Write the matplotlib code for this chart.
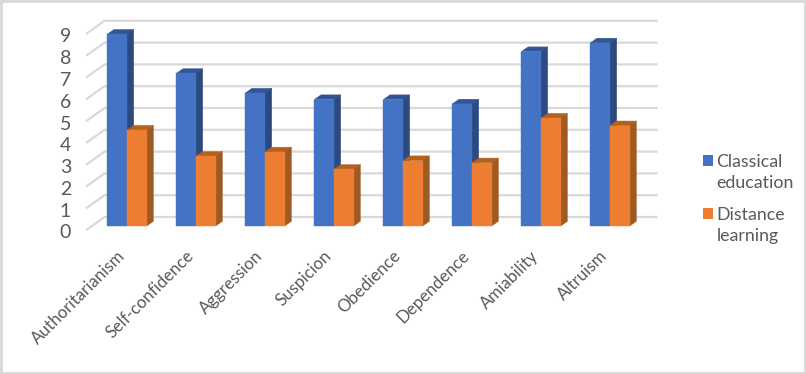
import matplotlib
matplotlib.use("Agg")
import matplotlib.pyplot as plt
from matplotlib.patches import Polygon, Rectangle, Patch
from matplotlib.transforms import ScaledTranslation

categories = ["Authoritarianism", "Self-confidence", "Aggression", "Suspicion",
              "Obedience", "Dependence", "Amiability", "Altruism"]
classical = [8.8, 7.0, 6.1, 5.8, 5.8, 5.6, 8.0, 8.4]
distance = [4.4, 3.2, 3.4, 2.6, 3.0, 2.9, 4.95, 4.6]
yticks = list(range(10))

W, H = 806, 374
plt.rcParams["font.family"] = ["Lato", "DejaVu Sans"]
fig = plt.figure(figsize=(W / 100, H / 100), dpi=100, facecolor="white")
fig.add_artist(Rectangle((0, 0), 1, 1, transform=fig.transFigure, fill=False,
                         ec="#D9D9D9", lw=3.5))
L, R, B0, T0 = 87, 639, 229.5, 33.3
ax = fig.add_axes([L / W, 1 - B0 / H, (R - L) / W, (B0 - T0) / H])
ax.set_xlim(-0.5, 7.5)
ax.set_ylim(0, 9)
ax.patch.set_alpha(0)
for s in ax.spines.values():
    s.set_visible(False)

PX = 8 / (R - L)          # category units per pixel
PY = 9 / (B0 - T0)        # value units per pixel
wall_dx, wall_dy = 17.5 * PX, 12.5 * PY
bar_dx, bar_dy = 5.5 * PX, 3.5 * PY
deep_dx, deep_dy = 6.7 * PX, 4.7 * PY
bw = 19.7 * PX

GRID = "#D9D9D9"
for v in yticks:
    ax.plot([-0.5, -0.5 + wall_dx, 7.5 + wall_dx], [v, v + wall_dy, v + wall_dy],
            color=GRID, lw=1.6, clip_on=False, zorder=1, solid_joinstyle="miter")


def bar(x0, v, front, side, top, z):
    x1 = x0 + bw
    y0 = bar_dy
    y1 = v + bar_dy
    shapes = [
        ([(x0, y1), (x1, y1), (x1 + deep_dx, y1 + deep_dy), (x0 + deep_dx, y1 + deep_dy)], top),
        ([(x1, y0), (x1, y1), (x1 + deep_dx, y1 + deep_dy), (x1 + deep_dx, y0 + deep_dy)], side),
        ([(x0, y0), (x1, y0), (x1, y1), (x0, y1)], front),
    ]
    for pts, c in shapes:
        ax.add_patch(Polygon(pts, closed=True, fc=c, ec=c, lw=0.3, clip_on=False, zorder=z))


for i, (a, b) in enumerate(zip(classical, distance)):
    xc = i + bar_dx
    bar(xc - bw, a, "#4472C4", "#2C4A7F", "#335593", 3 + i * 2)
    bar(xc, b, "#ED7D31", "#9E5A22", "#B5601F", 4 + i * 2)

ax.set_yticks(yticks)
ax.set_yticklabels([str(v) for v in yticks], fontsize=14, color="#595959")
ax.set_xticks(range(len(categories)))
ax.set_xticklabels(categories, rotation=45, ha="right", va="top", rotation_mode="anchor",
                   fontsize=12.2, color="#595959")
ax.tick_params(axis="both", length=0)
ax.tick_params(axis="y", pad=11.5)
ax.tick_params(axis="x", pad=8)
for lab in ax.get_xticklabels():
    lab.set_transform(lab.get_transform() + ScaledTranslation(-5 / 100, -7 / 100, fig.dpi_scale_trans))
for lab in ax.get_yticklabels():
    lab.set_transform(lab.get_transform() + ScaledTranslation(0, -2 / 100, fig.dpi_scale_trans))

handles = [Patch(fc="#4472C4", ec="none"), Patch(fc="#ED7D31", ec="none")]
leg = ax.legend(handles, ["Classical\neducation", "Distance\nlearning"],
                loc="center left", bbox_to_anchor=((703 - L) / (R - L), (B0 - 199) / (B0 - T0)),
                frameon=False, fontsize=12.8, labelcolor="#595959", handlelength=0.56,
                handleheight=0.56, handletextpad=0.2, labelspacing=0.9,
                borderpad=0, borderaxespad=0)
for t in leg.get_texts():
    t.set_linespacing(1.4)
for p in leg.get_patches():
    p.set_y(p.get_y() + 8.6)

fig.savefig("out.png", dpi=100)
